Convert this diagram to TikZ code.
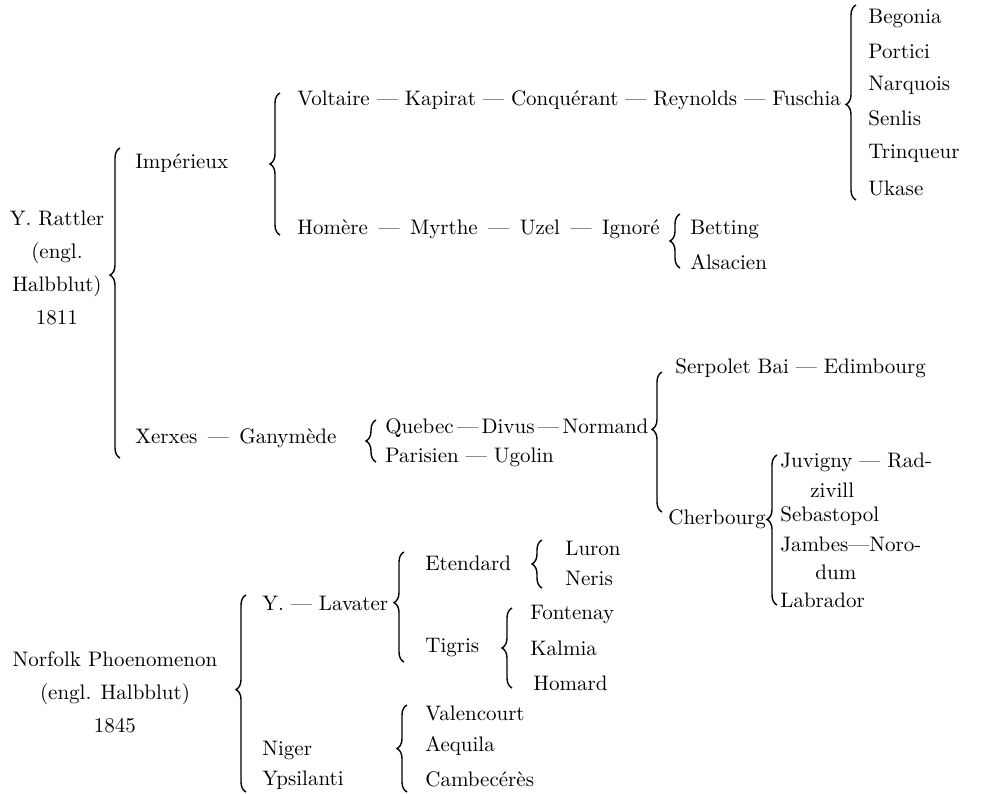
\documentclass[tikz,border=0pt]{standalone}
\usetikzlibrary{decorations.pathreplacing}
\tikzset{
  horse/.style={anchor=west, inner sep=0pt, font=\fontsize{10.5}{16.5}\selectfont},
  sire/.style={align=center, inner sep=0pt, font=\fontsize{10.5}{16.5}\selectfont},
  brc/.style={decorate, decoration={brace, amplitude=5pt, aspect=#1}, line width=0.7pt},
}
\begin{document}
\begin{tikzpicture}[x=0.5pt,y=-0.5pt]
\useasboundingbox (0,0) rectangle (985,793);
% Y. Rattler
\node[sire] (rat) at (57,268) {Y. Rattler\\(engl.\\Halbblut)\\1811};
\coordinate (rat1) at (120,458);
\coordinate (rat2) at (120,148);
\draw[brc=0.59] (rat1) -- (rat2);
\node[horse] (imp) at (135,163) {Impérieux};
\coordinate (imp1) at (280,235);
\coordinate (imp2) at (280,93);
\draw[brc=0.5] (imp1) -- (imp2);
\node[horse] (vol) at (297,100) {Voltaire — Kapirat — Conquérant — Reynolds — Fuschia};
\coordinate (vol1) at (856,200);
\coordinate (vol2) at (856,5);
\draw[brc=0.49] (vol1) -- (vol2);
\node[horse] (beg) at (868,18) {Begonia};
\node[horse] (por) at (868,51) {Portici};
\node[horse] (nar) at (868,85) {Narquois};
\node[horse] (sen) at (868,118) {Senlis};
\node[horse] (tri) at (868,153) {Trinqueur};
\node[horse] (uka) at (868,188) {Ukase};
\node[horse] (hom) at (297,229) {Homère\enspace—\enspace Myrthe\enspace—\enspace Uzel\enspace—\enspace Ignoré};
\coordinate (hom1) at (680,268);
\coordinate (hom2) at (680,214);
\draw[brc=0.5] (hom1) -- (hom2);
\node[horse] (bet) at (690,229) {Betting};
\node[horse] (als) at (690,262) {Alsacien};
\node[horse] (xer) at (135,438) {Xerxes\enspace—\enspace Ganymède};
\coordinate (xer1) at (376,462);
\coordinate (xer2) at (376,420);
\draw[brc=0.5] (xer1) -- (xer2);
\node[horse] (que) at (385,428) {Quebec\,—\,Divus\,—\,Normand};
\node[horse] (par) at (385,457) {Parisien — Ugolin};
\coordinate (nor1) at (662,512);
\coordinate (nor2) at (662,372);
\draw[brc=0.59] (nor1) -- (nor2);
\node[horse] (ser) at (675,368) {Serpolet Bai — Edimbourg};
\node[horse] (che) at (668,519) {Cherbourg};
\coordinate (che1) at (777,605);
\coordinate (che2) at (777,455);
\draw[brc=0.57] (che1) -- (che2);
\node[horse] (juv) at (780,462) {Juvigny — Rad-};
\node[horse] (ziv) at (810,490) {zivill};
\node[horse] (seb) at (780,516) {Sebastopol};
\node[horse] (jam) at (780,544) {Jambes—Noro-};
\node[horse] (dum) at (815,572) {dum};
\node[horse] (lab) at (780,600) {Labrador};
% Norfolk Phoenomenon
\node[sire] (nfk) at (115,692) {Norfolk Phoenomenon\\(engl. Halbblut)\\1845};
\coordinate (nfk1) at (246,792);
\coordinate (nfk2) at (246,595);
\draw[brc=0.52] (nfk1) -- (nfk2);
\node[horse] (lav) at (262,603) {Y. — Lavater};
\coordinate (lav1) at (404,662);
\coordinate (lav2) at (404,552);
\draw[brc=0.54] (lav1) -- (lav2);
\node[horse] (ete) at (425,563) {Etendard};
\coordinate (ete1) at (542,588);
\coordinate (ete2) at (542,540);
\draw[brc=0.5] (ete1) -- (ete2);
\node[horse] (lur) at (565,548) {Luron};
\node[horse] (ner) at (565,578) {Neris};
\node[horse] (tig) at (425,648) {Tigris};
\node[horse] (fon) at (530,615) {Fontenay};
\node[horse] (kal) at (530,648) {Kalmia};
\node[horse] (hmd) at (533,683) {Homard};
\coordinate (tig1) at (512,688);
\coordinate (tig2) at (512,608);
\draw[brc=0.5] (tig1) -- (tig2);
\node[horse] (nig) at (262,750) {Niger};
\node[horse] (yps) at (262,780) {Ypsilanti};
\coordinate (yps1) at (407,792);
\coordinate (yps2) at (407,705);
\draw[brc=0.5] (yps1) -- (yps2);
\node[horse] (val) at (425,713) {Valencourt};
\node[horse] (aeq) at (425,746) {Aequila};
\node[horse] (cam) at (425,779) {Cambecérès};
\end{tikzpicture}
\end{document}
